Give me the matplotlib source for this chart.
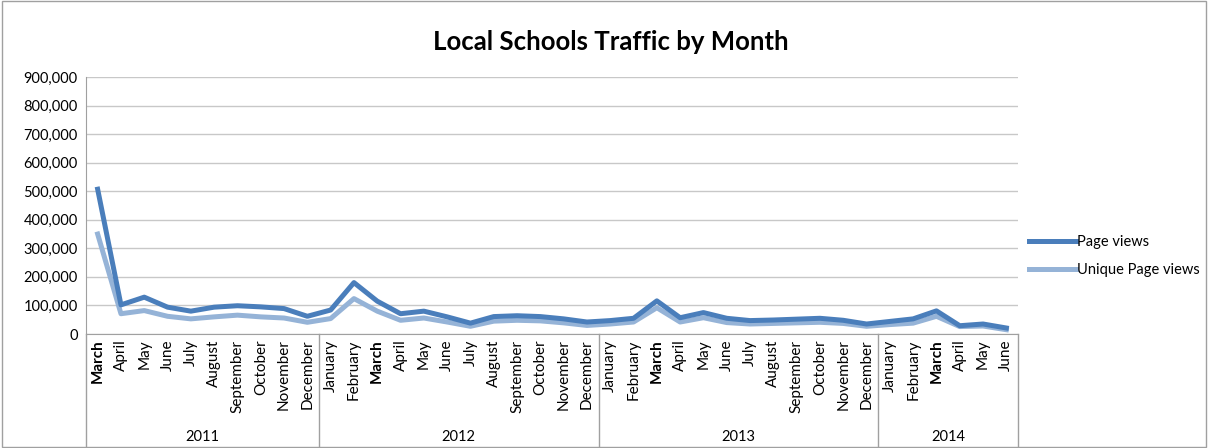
import numpy as np
import matplotlib.pyplot as plt
from matplotlib.ticker import FuncFormatter
from matplotlib.patches import Rectangle

plt.rcParams['font.family'] = ['Lato', 'DejaVu Sans']

years = ['2011', '2012', '2013', '2014']
year_months = [
    ['March', 'April', 'May', 'June', 'July', 'August', 'September', 'October', 'November', 'December'],
    ['January', 'February', 'March', 'April', 'May', 'June', 'July', 'August', 'September', 'October', 'November', 'December'],
    ['January', 'February', 'March', 'April', 'May', 'June', 'July', 'August', 'September', 'October', 'November', 'December'],
    ['January', 'February', 'March', 'April', 'May', 'June'],
]

page_views = [
    507000, 102000, 129000, 94000, 80000, 94000, 99000, 95000, 89000, 62000,
    84000, 180000, 115000, 71000, 80000, 60000, 38000, 61000, 64000, 61000, 53000, 42000,
    47000, 55000, 116000, 57000, 75000, 55000, 47000, 49000, 52000, 55000, 48000, 35000,
    44000, 53000, 81000, 29000, 35000, 21000,
]
unique_views = [
    350000, 71000, 82000, 62000, 53000, 60000, 66000, 60000, 56000, 41000,
    54000, 124000, 80000, 48000, 56000, 42000, 27000, 45000, 48000, 46000, 39000, 30000,
    35000, 42000, 92000, 42000, 57000, 40000, 35000, 37000, 39000, 41000, 37000, 27000,
    33000, 38000, 62000, 26000, 28000, 15000,
]

months = [m for ms in year_months for m in ms]
x = np.arange(len(months))

fig = plt.figure(figsize=(12.08, 4.48), dpi=100)
ax = fig.add_axes([86 / 1208, 1 - 334 / 448, 932 / 1208, 257 / 448])

ax.plot(x, page_views, color='#4A7EBB', lw=3.6, label='Page views', zorder=3, solid_joinstyle='round')
ax.plot(x, unique_views, color='#95B3D7', lw=3.6, label='Unique Page views', zorder=2, solid_joinstyle='round')

ax.set_xlim(-0.5, len(months) - 0.5)
ax.set_ylim(0, 900000)
ax.set_yticks(np.arange(0, 900001, 100000))
ax.yaxis.set_major_formatter(FuncFormatter(lambda v, p: f'{int(v):,}'))
ax.grid(axis='y', color='#C8C8C8', lw=1)
ax.set_axisbelow(True)
for s in ['top', 'right']:
    ax.spines[s].set_visible(False)
for s in ['left', 'bottom']:
    ax.spines[s].set_color('#A0A0A0')
ax.tick_params(axis='y', length=0, labelsize=10.5, pad=6)
ax.tick_params(axis='x', length=0, pad=4)

ax.set_xticks(x)
ax.set_xticklabels(months, rotation=90, fontsize=11)
for lbl, m in zip(ax.get_xticklabels(), months):
    if m == 'March':
        lbl.set_fontweight('bold')

# year groups under the month labels
tr = ax.get_xaxis_transform()
start = 0
bounds = [-0.5]
for yr, ms in zip(years, year_months):
    end = start + len(ms)
    ax.text((start + end - 1) / 2, -0.40, yr, transform=tr, ha='center', va='center', fontsize=10.5)
    bounds.append(end - 0.5)
    start = end
for b in bounds:
    ax.plot([b, b], [0, -0.45], transform=tr, color='#A0A0A0', lw=1, clip_on=False)

fig.text(611 / 1208, 1 - 42 / 448, 'Local Schools Traffic by Month', fontsize=18.5,
         fontweight='bold', ha='center', va='center')

fig.legend(loc='center left', bbox_to_anchor=(1016 / 1208, 1 - 256 / 448), frameon=False,
           fontsize=10.5, handlelength=3.2, handletextpad=0.1, labelspacing=1.0)

fig.patches.append(Rectangle((0.002, 0.003), 0.996, 0.994, transform=fig.transFigure,
                             fill=False, edgecolor='#A0A0A0', lw=1))

fig.savefig('out.png', dpi=100)
